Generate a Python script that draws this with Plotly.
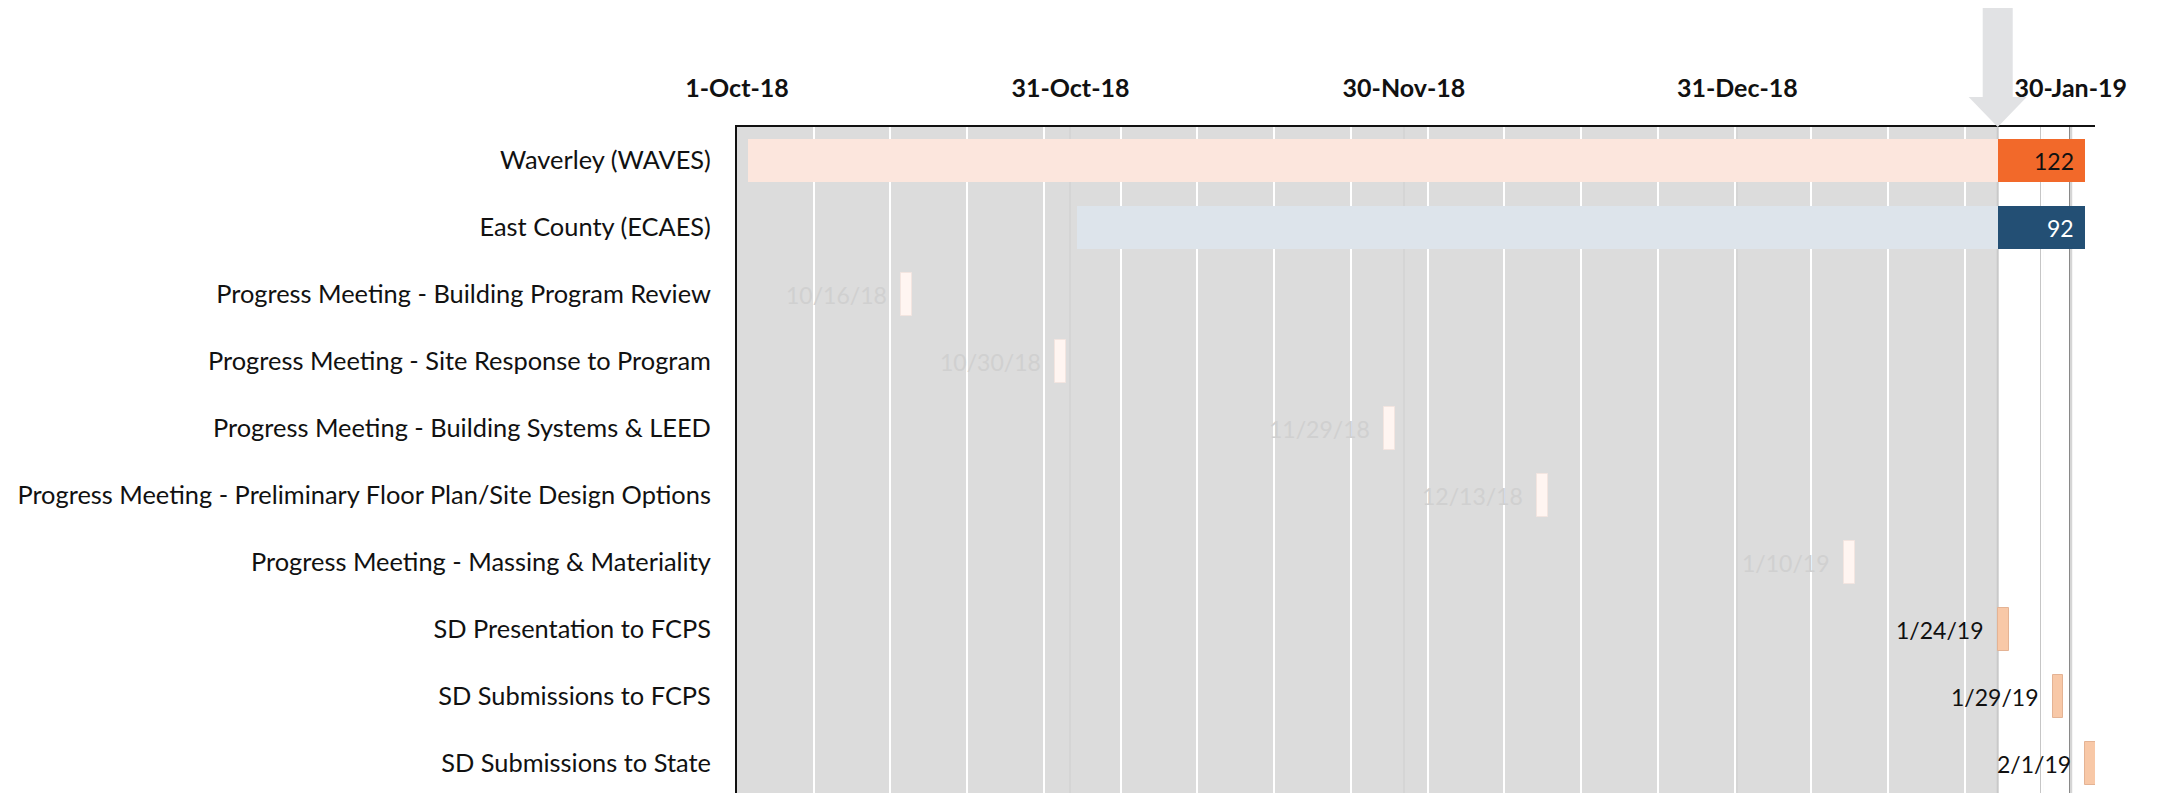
import plotly.graph_objects as go
import pandas as pd

# ---------------- data ----------------
tasks = [
    "Waverley (WAVES)",
    "East County (ECAES)",
    "Progress Meeting - Building Program Review",
    "Progress Meeting - Site Response to Program",
    "Progress Meeting - Building Systems & LEED",
    "Progress Meeting - Preliminary Floor Plan/Site Design Options",
    "Progress Meeting - Massing & Materiality",
    "SD Presentation to FCPS",
    "SD Submissions to FCPS",
    "SD Submissions to State",
]

project_tasks = ["Waverley (WAVES)", "East County (ECAES)"]
project_starts = ["2018-10-02", "2018-11-01"]
project_days = [122, 92]
project_light = ["#FCE6DD", "#DDE4EB"]
project_dark = ["#F2692A", "#234F74"]
project_text_colors = ["#111111", "#FFFFFF"]

milestone_tasks = tasks[2:]
milestone_dates = ["2018-10-16", "2018-10-30", "2018-11-29", "2018-12-13",
                   "2019-01-10", "2019-01-24", "2019-01-29", "2019-02-01"]
milestone_labels = ["10/16/18", "10/30/18", "11/29/18", "12/13/18",
                    "1/10/19", "1/24/19", "1/29/19", "2/1/19"]

today = "2019-01-24"
axis_start = "2018-10-01"
axis_end = "2019-02-01 21:00"
tick_labels = ["1-Oct-18", "31-Oct-18", "30-Nov-18", "31-Dec-18", "30-Jan-19"]
major_unit_days = 365 / 12
minor_unit_days = 7

# ---------------- styles ----------------
FONT = "Lato"
DAY_MS = 86400000
t_today = pd.Timestamp(today)
t_start = pd.Timestamp(axis_start)
t_end = pd.Timestamp(axis_end)

tick_vals = [(t_start + pd.Timedelta(days=k * major_unit_days)).isoformat() for k in range(len(tick_labels))]

fig = go.Figure()

# project bars: elapsed part (light) + remaining part (dark)
for name, s, d, cl, cd in zip(project_tasks, project_starts, project_days, project_light, project_dark):
    ts = pd.Timestamp(s)
    te = ts + pd.Timedelta(days=d)
    fig.add_trace(go.Bar(
        y=[name], x=[(t_today - ts).total_seconds() * 1000], base=[ts.isoformat()],
        orientation="h", marker=dict(color=cl, line=dict(width=0)), width=0.64,
        showlegend=False, hoverinfo="skip"))
    fig.add_trace(go.Bar(
        y=[name], x=[(te - t_today).total_seconds() * 1000], base=[t_today.isoformat()],
        orientation="h", marker=dict(color=cd, line=dict(width=0)), width=0.64,
        showlegend=False, hoverinfo="skip"))

# milestone bars
for name, d in zip(milestone_tasks, milestone_dates):
    past = pd.Timestamp(d) < t_today
    fig.add_trace(go.Bar(
        y=[name], x=[DAY_MS], base=[pd.Timestamp(d).isoformat()], orientation="h",
        marker=dict(color="#FFF5F1" if past else "#F8C8A7",
                    line=dict(color="#F3E5E0" if past else "#E4B394", width=1)),
        width=0.64, showlegend=False, hoverinfo="skip"))

annotations = []
for name, d, lab in zip(milestone_tasks, milestone_dates, milestone_labels):
    past = pd.Timestamp(d) < t_today
    annotations.append(dict(
        x=pd.Timestamp(d).isoformat(), y=name, xref="x", yref="y", text=lab,
        showarrow=False, xanchor="right", yanchor="middle", xshift=-12,
        font=dict(family=FONT, size=23, color="#D0D0D0" if past else "#111111")))

for name, s, d, tc in zip(project_tasks, project_starts, project_days, project_text_colors):
    te = pd.Timestamp(s) + pd.Timedelta(days=d)
    annotations.append(dict(
        x=te.isoformat(), y=name, xref="x", yref="y", text=str(d),
        showarrow=False, xanchor="right", yanchor="middle", xshift=-9,
        font=dict(family=FONT, size=23, color=tc)))

shapes = [
    # elapsed-time shading
    dict(type="rect", xref="x", yref="paper", x0=t_start.isoformat(), x1=t_today.isoformat(),
         y0=0, y1=1, fillcolor="#DCDCDC", line=dict(width=0), layer="below"),
    dict(type="line", xref="x", yref="paper", x0=t_today.isoformat(), x1=t_today.isoformat(),
         y0=0, y1=1, line=dict(color="#C9C9C9", width=2), layer="between"),
    # today arrow
    dict(type="path", xref="x", yref="paper", xsizemode="pixel", ysizemode="pixel",
         xanchor=t_today.isoformat(), yanchor=1,
         path="M0,0 L29,30 L15,30 L15,120 L-15,120 L-15,30 L-29,30 Z",
         fillcolor="#E1E2E4", line=dict(width=0), layer="above"),
]
# gridlines in the un-shaded (future) part
k = 0
while True:
    t = t_start + pd.Timedelta(days=k * minor_unit_days)
    if t > t_end:
        break
    if t > t_today:
        shapes.append(dict(type="line", xref="x", yref="paper", x0=t.isoformat(), x1=t.isoformat(),
                           y0=0, y1=1, line=dict(color="#C3C3C3", width=3), layer="between"))
    k += 1
for tv in tick_vals:
    if pd.Timestamp(tv) > t_today:
        shapes.append(dict(type="line", xref="x", yref="paper", x0=tv, x1=tv,
                           y0=0, y1=1, line=dict(color="#000000", width=2.5), layer="between"))

# the page body adds an 8px offset, so margins are reduced accordingly
fig.update_layout(
    width=2157, height=793,
    margin=dict(l=729, r=70, t=119, b=8, autoexpand=False),
    paper_bgcolor="white", plot_bgcolor="white",
    barmode="overlay", bargap=0,
    shapes=shapes, annotations=annotations,
    font=dict(family=FONT, color="#111111"),
    xaxis=dict(
        type="date", side="top", range=[t_start.isoformat(), t_end.isoformat()],
        tickmode="array", tickvals=tick_vals, ticktext=tick_labels,
        tickfont=dict(family=FONT, size=25, color="#111111", weight="bold"),
        ticks="", ticklabelstandoff=18,
        showline=True, linecolor="#111111", linewidth=2,
        showgrid=True, gridcolor="#D5D5D5", gridwidth=2,
        minor=dict(showgrid=True, dtick=minor_unit_days * DAY_MS, tick0=t_start.isoformat(),
                   gridcolor="#FFFFFF", gridwidth=2),
        zeroline=False, fixedrange=True,
    ),
    yaxis=dict(
        type="category", categoryorder="array", categoryarray=tasks,
        range=[9.44, -0.5],
        tickfont=dict(family=FONT, size=25.4, color="#111111"),
        ticks="", ticklabelstandoff=19,
        showline=True, linecolor="#111111", linewidth=2,
        showgrid=False, zeroline=False, fixedrange=True,
    ),
)

fig.write_html("out.html")
